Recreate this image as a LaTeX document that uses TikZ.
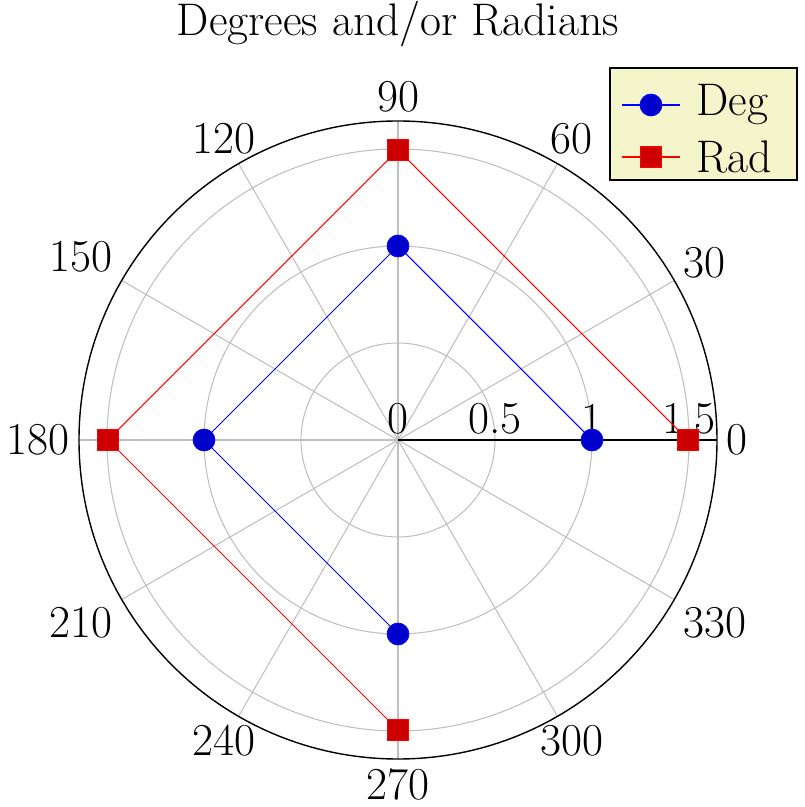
\documentclass[tikz,border=0pt]{standalone}
\definecolor{legbg}{RGB}{245,245,204}
\begin{document}
\begin{tikzpicture}[x=0.02cm,y=0.02cm,font=\fontsize{26}{31}\selectfont,
  grid/.style={gray!50,line width=0.6pt},
  deg/.style={blue,line width=0.6pt},
  rad/.style={red,line width=0.6pt},
  dm/.style={circle,fill=blue!80!black,draw=blue,inner sep=0pt,minimum size=12.5pt},
  rm/.style={rectangle,fill=red!80!black,draw=red,inner sep=0pt,minimum size=12pt}]
\useasboundingbox (-398,-367) rectangle (406,440);
\coordinate (o) at (0,0);
\foreach \r in {97,194,291} \draw[grid] (o) circle (\r);
\foreach \a in {30,60,...,330} \draw[grid] (o) -- (\a:319);
\draw[black,line width=0.8pt] (o) circle (319);
\draw[black,line width=0.8pt] (o) -- (0:319);
\foreach \a in {0,30,...,330} \node[anchor=\a+180,inner sep=5pt] (l\a) at (\a:319) {\a};
\foreach \r/\t in {0/0,97/0.5,194/1,291/1.5} \node[anchor=south,inner sep=3pt] (t\r) at (\r,0) {\t};
\node (title) at (0,416) {Degrees and/or Radians};
\draw[deg] (0:194) -- (90:194) -- (180:194) -- (270:194);
\draw[rad] (0:290) -- (90:290) -- (180:290) -- (270:290);
\foreach \a in {0,90,180,270} {\node[dm] (d\a) at (\a:194) {}; \node[rm] (r\a) at (\a:290) {};}
\draw[line width=0.8pt,fill=legbg] (212,260) rectangle (399,372);
\draw[deg] (224,335) -- (282,335); \node[dm] (ld) at (253,335) {};
\node[anchor=west] (lt1) at (292,335) {Deg};
\draw[rad] (224,283) -- (282,283); \node[rm] (lr) at (253,283) {};
\node[anchor=west] (lt2) at (292,283) {Rad};
\end{tikzpicture}
\end{document}
